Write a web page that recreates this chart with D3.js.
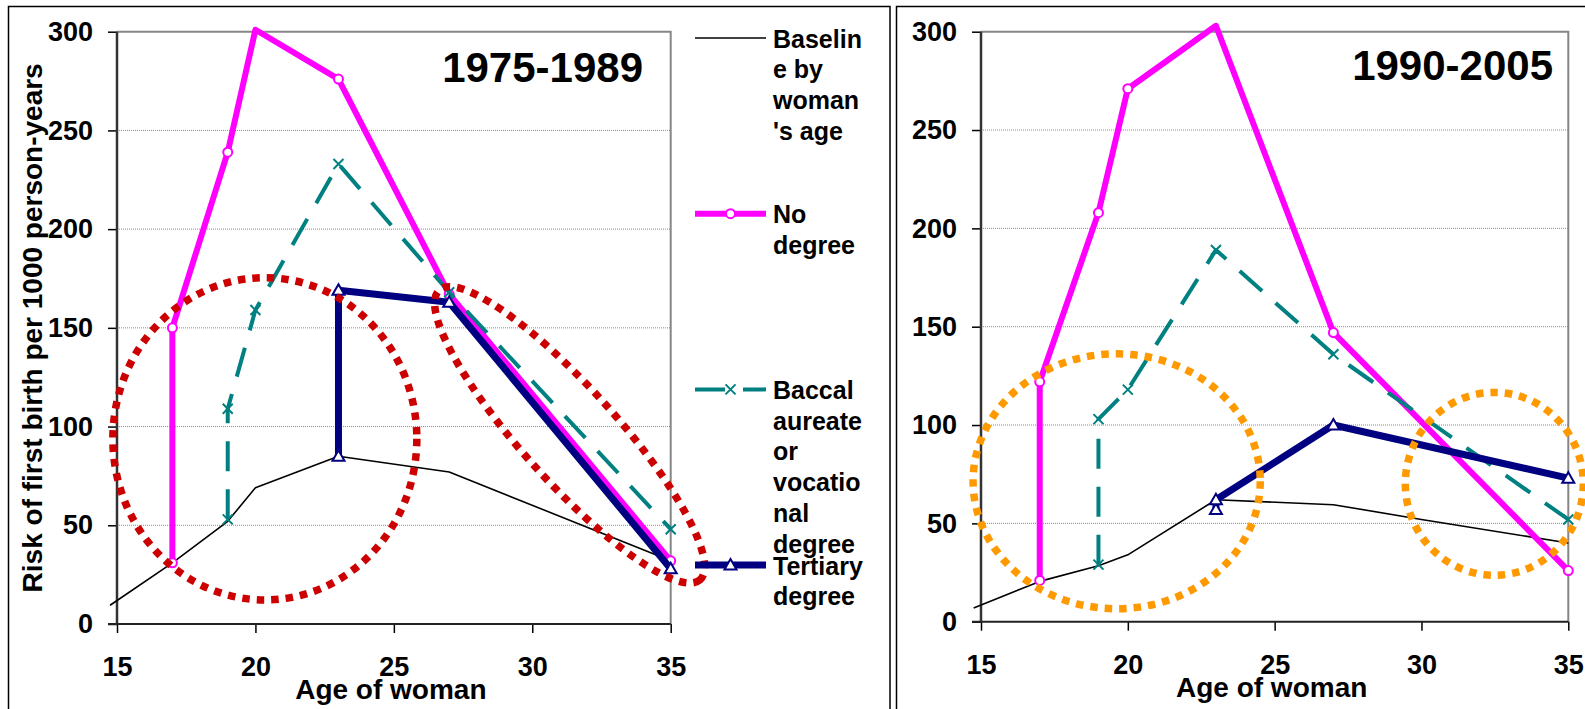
<!DOCTYPE html>
<html>
  <head>
    <meta charset="utf-8">
    <title>Risk of first birth by age of woman</title>
    <style media="screen">
      body {margin:0; background:#fff}
      text {font-family: "Liberation Sans", Arial, sans-serif; font-weight: bold; fill: #000}
    </style>
  </head>
  <body>
    <script src="https://cdn.jsdelivr.net/npm/d3@7/dist/d3.min.js"></script>
    <script type="text/javascript">

    // ---- data: [age, risk per 1000 person-years]
    const xTicks = [15, 20, 25, 30, 35]
    const yTicks = [0, 50, 100, 150, 200, 250, 300]
    const periods = ['1975-1989', '1990-2005']
    const xTitle = 'Age of woman'
    const yTitle = 'Risk of first birth per 1000 person-years'

    // legend labels, wrapped the way the original legend wraps them
    const legendLabels = [
      ['Baselin', 'e by', 'woman', "'s age"],
      ['No', 'degree'],
      ['Baccal', 'aureate', 'or', 'vocatio', 'nal', 'degree'],
      ['Tertiary', 'degree']
    ]

    const baseline1 = [[14.75, 9.5], [17, 31], [19, 52], [20, 69], [23, 85], [27, 77], [35, 32]]
    const noDegree1 = [[17, 31], [17, 150], [19, 239], [20, 301], [23, 276], [27, 167], [35, 32]]
    const bacc1     = [[19, 53], [19, 109], [20, 159], [23, 233], [27, 168], [35, 48]]
    const tertiary1 = [[23, 85], [23, 169], [27, 163], [35, 28]]

    const baseline2 = [[14.75, 7], [17, 20.5], [19, 28.5], [20, 34], [23, 62], [27, 59.5], [30, 52], [35, 40]]
    const noDegree2 = [[17, 21], [17, 122], [19, 208], [20, 271], [23, 303], [27, 147], [35, 26]]
    const bacc2     = [[19, 29], [19, 103], [20, 118], [23, 189], [27, 136], [35, 52]]
    const tertiary2 = [[23, 57], [23, 62], [27, 100], [35, 73]]

    // highlighted regions: centre (age, risk), half-widths (years, risk), tilt in degrees
    const rings1 = [[20.34, 93.8, 5.49, 81.6, 0], [31.35, 95.8, 7.04, 23.8, 48]]
    const rings2 = [[19.62, 71.4, 4.89, 64.8, 0], [32.48, 70.1, 3.03, 46.5, 0]]

    // ---- styles
    const styles = [
      {stroke: '#000', width: 1.6, dash: null, marker: null},
      {stroke: '#ff00ff', width: 6, dash: null, marker: 'circle'},
      {stroke: '#008080', width: 4, dash: '30,18', marker: 'x'},
      {stroke: '#000080', width: 7, dash: null, marker: 'triangle'}
    ]

    const panels = [
      {left: 117, right: 670.7, top: 31.7, bottom: 624, titleX: 643, titleY: 82,
       series: [baseline1, noDegree1, bacc1, tertiary1], rings: rings1, ringColor: '#cc0000', frame: [8.5, 890]},
      {left: 981, right: 1568.3, top: 31.7, bottom: 621.7, titleX: 1553, titleY: 80,
       series: [baseline2, noDegree2, bacc2, tertiary2], rings: rings2, ringColor: '#ff9900', frame: [896.5, 1700]}
    ]

    const W = 1585, H = 709

    const svg = d3.select('body').append('svg')
      .attr('width', W)
      .attr('height', H)

    function marker (sel, type, color) {
      if (type === 'circle') {
        sel.append('circle').attr('r', 4.5)
          .attr('fill', '#fff').attr('stroke', color).attr('stroke-width', 2)
      } else if (type === 'x') {
        sel.append('path').attr('d', 'M-5,-5L5,5M-5,5L5,-5')
          .attr('fill', 'none').attr('stroke', color).attr('stroke-width', 2)
      } else if (type === 'triangle') {
        sel.append('path').attr('d', 'M0,-6L6,4.5L-6,4.5Z')
          .attr('fill', '#fff').attr('stroke', color).attr('stroke-width', 2)
      }
    }

    panels.forEach((p, pi) => {
      const g = svg.append('g')

      // outer frame
      g.append('rect')
        .attr('x', p.frame[0]).attr('y', 6.5)
        .attr('width', p.frame[1] - p.frame[0]).attr('height', 800)
        .attr('fill', 'none').attr('stroke', '#000').attr('stroke-width', 1.5)

      const x = d3.scaleLinear().domain([15, 35]).range([p.left, p.right])
      const y = d3.scaleLinear().domain([0, 300]).range([p.bottom, p.top])

      // gridlines
      g.append('g').selectAll('line')
        .data(yTicks.filter(v => v > 0 && v < 300))
        .join('line')
        .attr('x1', p.left).attr('x2', p.right)
        .attr('y1', d => y(d)).attr('y2', d => y(d))
        .attr('stroke', '#8c8c8c').attr('stroke-width', 1).attr('stroke-dasharray', '1,1')

      // plot area border (top, right)
      g.append('path')
        .attr('d', `M${p.left},${y(300)}H${p.right}V${p.bottom}`)
        .attr('fill', 'none').attr('stroke', '#868686').attr('stroke-width', 2)

      // axes
      const ay = g.append('g')
        .attr('transform', `translate(${p.left},0)`)
        .call(d3.axisLeft(y).tickValues(yTicks).tickSize(9).tickPadding(15))
      const ax = g.append('g')
        .attr('transform', `translate(0,${p.bottom})`)
        .call(d3.axisBottom(x).tickValues(xTicks).tickSize(9))

      ;[ax, ay].forEach(a => {
        a.select('.domain').remove()
        a.selectAll('line').attr('stroke', '#000').attr('stroke-width', 1.5)
        a.selectAll('text').style('font-size', '27px').attr('fill', '#000')
      })
      ax.selectAll('text').attr('y', 52).attr('dy', null)

      g.append('line')
        .attr('x1', p.left).attr('x2', p.left).attr('y1', y(300)).attr('y2', p.bottom + 1)
        .attr('stroke', '#333').attr('stroke-width', 2.5)
      g.append('line')
        .attr('x1', p.left - 9).attr('x2', p.right).attr('y1', p.bottom).attr('y2', p.bottom)
        .attr('stroke', '#222').attr('stroke-width', 2)

      // axis titles
      g.append('text')
        .attr('x', (p.left + p.right) / 2 - 3).attr('y', p.bottom + 75)
        .attr('text-anchor', 'middle').style('font-size', '28px')
        .text(xTitle)

      if (pi === 0) {
        g.append('text')
          .attr('transform', `translate(42,${(p.top + p.bottom) / 2}) rotate(-90)`)
          .attr('text-anchor', 'middle').style('font-size', '28px')
          .text(yTitle)
      }

      // period title
      g.append('text')
        .attr('x', p.titleX).attr('y', p.titleY)
        .attr('text-anchor', 'end').style('font-size', '42px')
        .text(periods[pi])

      // series
      const line = d3.line().x(d => x(d[0])).y(d => y(d[1]))

      p.series.forEach((data, si) => {
        const s = styles[si]
        g.append('path')
          .attr('d', line(data))
          .attr('fill', 'none')
          .attr('stroke', s.stroke)
          .attr('stroke-width', s.width)
          .attr('stroke-linejoin', 'round')
          .attr('stroke-dasharray', s.dash)

        if (s.marker) {
          g.append('g').selectAll('g')
            .data(data.filter(d => d[1] <= 300))
            .join('g')
            .attr('transform', d => `translate(${x(d[0])},${y(d[1])})`)
            .each(function () { marker(d3.select(this), s.marker, s.stroke) })
        }
      })

      // dotted rings
      g.append('g').selectAll('ellipse')
        .data(p.rings)
        .join('ellipse')
        .attr('transform', d => `translate(${x(d[0])},${y(d[1])}) rotate(${d[4]})`)
        .attr('rx', d => x(d[0] + d[2]) - x(d[0]))
        .attr('ry', d => y(d[1] - d[3]) - y(d[1]))
        .attr('fill', 'none')
        .attr('stroke', p.ringColor)
        .attr('stroke-width', 7.5)
        .attr('stroke-dasharray', '7.5,7')
    })

    // legend (between the two panels)
    const legendX = 695, legendW = 71, legendTop = 38, legendStep = 175.7, lineH = 30.8

    const lg = svg.append('g').selectAll('g')
      .data(legendLabels)
      .join('g')
      .attr('transform', (d, i) => `translate(${legendX},${legendTop + i * legendStep})`)

    lg.each(function (lines, i) {
      const s = styles[i]
      const e = d3.select(this)
      e.append('line')
        .attr('x1', 0).attr('x2', legendW)
        .attr('stroke', s.stroke).attr('stroke-width', s.width)
        .attr('stroke-dasharray', s.dash)
      if (s.marker) marker(e.append('g').attr('transform', `translate(${legendW / 2},0)`), s.marker, s.stroke)

      e.append('text')
        .attr('x', legendW + 7).attr('y', 9.5)
        .style('font-size', '25px')
        .selectAll('tspan')
        .data(lines)
        .join('tspan')
        .attr('x', legendW + 7)
        .attr('dy', (d, j) => j === 0 ? 0 : lineH)
        .text(d => d)
    })

    </script>
  </body>
</html>
